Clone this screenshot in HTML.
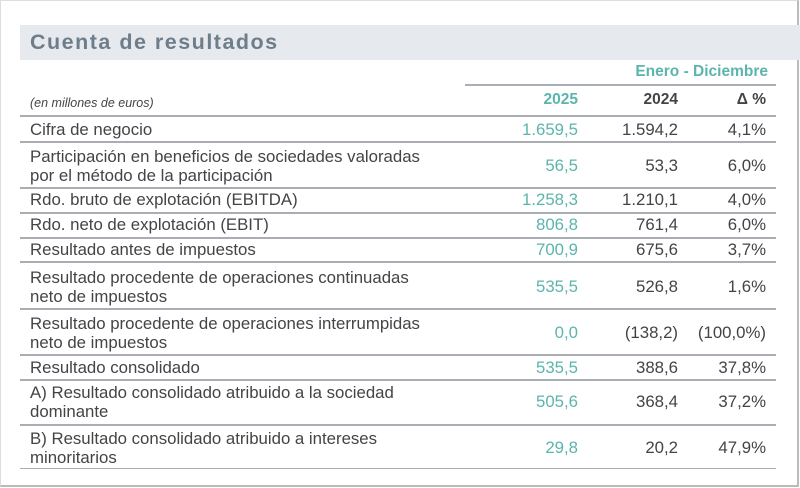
<!DOCTYPE html>
<html><head><meta charset="utf-8"><style>
body{margin:0;width:800px;height:488px;background:#fff;position:relative;overflow:hidden;font-family:"Liberation Sans",sans-serif;color:#444}
.frame{position:absolute;left:0;top:0;width:796px;height:484px;border-right:2px solid #bbb;border-bottom:2px solid #bbb;border-left:1px solid #ddd;border-top:1px solid #ddd;box-sizing:content-box}
.title{position:absolute;left:20px;top:25px;width:780px;height:35px;background:#e6eaee}
.title span{position:absolute;left:10px;top:5px;font-size:21.5px;font-weight:bold;color:#6f7d8a;letter-spacing:1.5px}
.t{position:absolute;font-size:16.8px;white-space:nowrap;line-height:18.5px}
.c1{right:222px;color:#5cb5ad}
.c2{right:122px}
.c3{right:34px}
.ln{position:absolute;left:20px;width:756px;height:2px;background:#a8aeb3}
</style></head><body>
<div class="frame"></div>
<div class="title"><span>Cuenta de resultados</span></div>
<div class="t" style="right:32px;top:63px;color:#5cb5ad;font-weight:bold;font-size:15.5px">Enero - Diciembre</div>
<div class="ln" style="left:465px;width:311px;top:84px"></div>
<div class="t" style="left:30px;top:94px;font-size:12.5px;font-style:italic">(en millones de euros)</div>
<div class="t c1" style="top:91px;font-weight:bold;font-size:15.5px">2025</div>
<div class="t c2" style="top:91px;font-weight:bold;font-size:15.5px">2024</div>
<div class="t c3" style="top:91px;font-weight:bold;font-size:15.5px">Δ %</div>
<div class="ln" style="top:115px"></div>

<div class="t" style="left:30px;top:121px">Cifra de negocio</div>
<div class="t c1" style="top:121px">1.659,5</div><div class="t c2" style="top:121px">1.594,2</div><div class="t c3" style="top:121px">4,1%</div>
<div class="ln" style="top:141px"></div>

<div class="t" style="left:30px;top:148px">Participación en beneficios de sociedades valoradas<br>por el método de la participación</div>
<div class="t c1" style="top:157px">56,5</div><div class="t c2" style="top:157px">53,3</div><div class="t c3" style="top:157px">6,0%</div>
<div class="ln" style="top:187px"></div>

<div class="t" style="left:30px;top:191px">Rdo. bruto de explotación (EBITDA)</div>
<div class="t c1" style="top:191px">1.258,3</div><div class="t c2" style="top:191px">1.210,1</div><div class="t c3" style="top:191px">4,0%</div>
<div class="ln" style="top:212px"></div>

<div class="t" style="left:30px;top:216px">Rdo. neto de explotación (EBIT)</div>
<div class="t c1" style="top:216px">806,8</div><div class="t c2" style="top:216px">761,4</div><div class="t c3" style="top:216px">6,0%</div>
<div class="ln" style="top:237px"></div>

<div class="t" style="left:30px;top:241px">Resultado antes de impuestos</div>
<div class="t c1" style="top:241px">700,9</div><div class="t c2" style="top:241px">675,6</div><div class="t c3" style="top:241px">3,7%</div>
<div class="ln" style="top:261px"></div>

<div class="t" style="left:30px;top:269px">Resultado procedente de operaciones continuadas<br>neto de impuestos</div>
<div class="t c1" style="top:278px">535,5</div><div class="t c2" style="top:278px">526,8</div><div class="t c3" style="top:278px">1,6%</div>
<div class="ln" style="top:308px"></div>

<div class="t" style="left:30px;top:315px">Resultado procedente de operaciones interrumpidas<br>neto de impuestos</div>
<div class="t c1" style="top:324px">0,0</div><div class="t c2" style="top:324px">(138,2)</div><div class="t c3" style="top:324px">(100,0%)</div>
<div class="ln" style="top:354px"></div>

<div class="t" style="left:30px;top:359px">Resultado consolidado</div>
<div class="t c1" style="top:359px">535,5</div><div class="t c2" style="top:359px">388,6</div><div class="t c3" style="top:359px">37,8%</div>
<div class="ln" style="top:379px"></div>

<div class="t" style="left:30px;top:384px">A) Resultado consolidado atribuido a la sociedad<br>dominante</div>
<div class="t c1" style="top:393px">505,6</div><div class="t c2" style="top:393px">368,4</div><div class="t c3" style="top:393px">37,2%</div>
<div class="ln" style="top:424px"></div>

<div class="t" style="left:30px;top:430px">B) Resultado consolidado atribuido a intereses<br>minoritarios</div>
<div class="t c1" style="top:439px">29,8</div><div class="t c2" style="top:439px">20,2</div><div class="t c3" style="top:439px">47,9%</div>
<div class="ln" style="top:468px;height:1px"></div>
</body></html>
